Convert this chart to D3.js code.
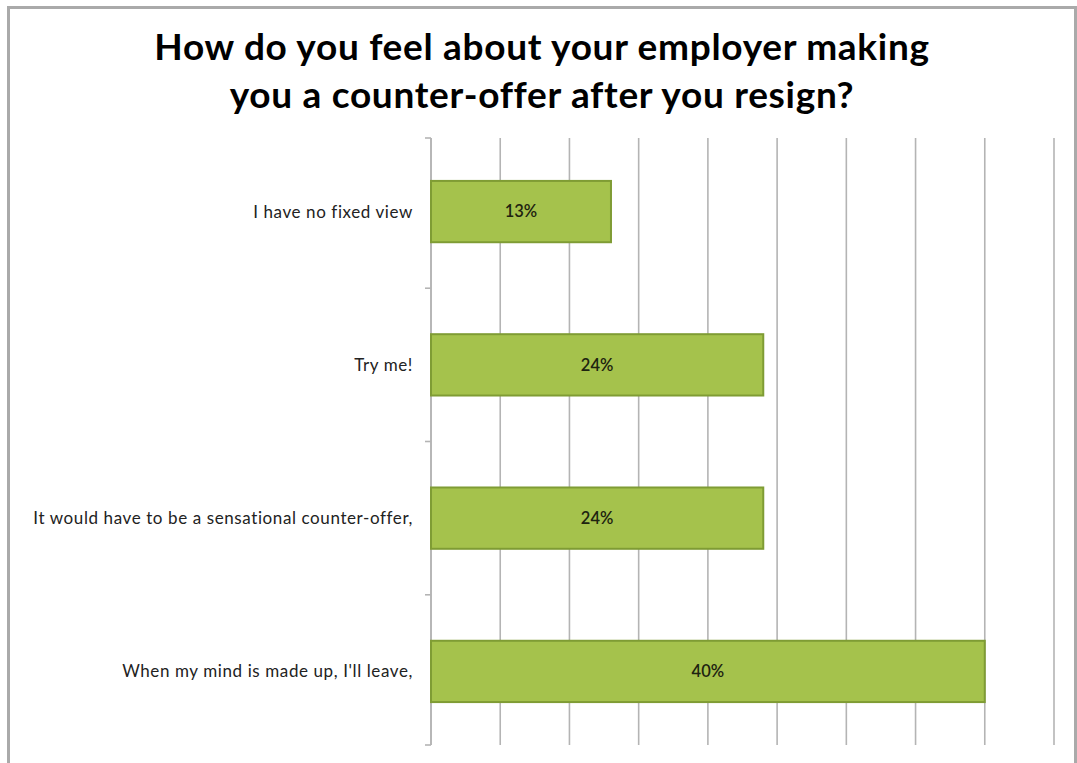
<!DOCTYPE html>
<html>
<head>
<meta charset="utf-8">
<script src="https://cdn.jsdelivr.net/npm/d3@7"></script>
<style>
  html, body { margin: 0; padding: 0; background: #fff; }
  svg { display: block; }
</style>
</head>
<body>
<script>
// Survey answers, top to bottom, with their share of respondents (%)
const categories = [
  "I have no fixed view",
  "Try me!",
  "It would have to be a sensational counter-offer,",
  "When my mind is made up, I'll leave,"
];
const values = [13, 24, 24, 40];
const valueLabels = ["13%", "24%", "24%", "40%"];
const gridTicks = [0, 5, 10, 15, 20, 25, 30, 35, 40, 45];
const titleLines = [
  "How do you feel about your employer making",
  "you a counter-offer after you resign?"
];

const W = 1077, H = 763;
const svg = d3.select("body").append("svg")
  .attr("width", W).attr("height", H);

// Frame around the chart
svg.append("rect")
  .attr("x", 8.5).attr("y", 7.5)
  .attr("width", 1067).attr("height", 780)
  .attr("fill", "#fff")
  .attr("stroke", "#aaaaaa").attr("stroke-width", 3);

// Title
const title = svg.append("text")
  .attr("text-anchor", "middle")
  .attr("font-family", "Lato, 'Open Sans', sans-serif")
  .attr("font-weight", 700)
  .attr("font-size", 37)
  .attr("letter-spacing", 0.7)
  .attr("fill", "#000");
titleLines.forEach((t, i) => {
  title.append("tspan")
    .attr("x", 542)
    .attr("y", 60 + i * 48)
    .text(t);
});

// Scales
const x = d3.scaleLinear().domain([0, 45]).range([431, 1054]);
const y = d3.scaleBand().domain(categories).range([138, 745])
  .paddingInner(0.6).paddingOuter(0.28);

// Vertical gridlines
svg.append("g")
  .selectAll("line")
  .data(gridTicks)
  .join("line")
  .attr("x1", d => x(d)).attr("x2", d => x(d))
  .attr("y1", 138).attr("y2", 745)
  .attr("stroke", "#b4b4b4").attr("stroke-width", 1.6);

// Category axis with outward ticks on band boundaries
const yAxisG = svg.append("g");
yAxisG.append("line")
  .attr("x1", x(0)).attr("x2", x(0))
  .attr("y1", 138).attr("y2", 745)
  .attr("stroke", "#b4b4b4").attr("stroke-width", 1.6);
const boundaries = categories.map(c => y(c) - y.step() * y.paddingInner() / 2)
  .concat([745]);
boundaries[0] = 138;
yAxisG.selectAll("line.tick")
  .data(boundaries)
  .join("line")
  .attr("class", "tick")
  .attr("x1", x(0) - 6).attr("x2", x(0))
  .attr("y1", d => d).attr("y2", d => d)
  .attr("stroke", "#b4b4b4").attr("stroke-width", 1.6);

// Category labels
svg.append("g")
  .selectAll("text")
  .data(categories)
  .join("text")
  .attr("x", 413)
  .attr("y", d => y(d) + y.bandwidth() / 2)
  .attr("dy", "0.35em")
  .attr("text-anchor", "end")
  .attr("font-family", "Lato, 'Open Sans', sans-serif")
  .attr("font-size", 17)
  .attr("letter-spacing", 0.6)
  .attr("fill", "#222")
  .text(d => d);

// Bars
svg.append("g")
  .selectAll("rect")
  .data(categories)
  .join("rect")
  .attr("x", x(0))
  .attr("y", d => y(d))
  .attr("width", (d, i) => x(values[i]) - x(0))
  .attr("height", y.bandwidth())
  .attr("fill", "#a5c24c")
  .attr("stroke", "#7f9c34")
  .attr("stroke-width", 2);

// Value labels centred in bars
svg.append("g")
  .selectAll("text")
  .data(categories)
  .join("text")
  .attr("x", (d, i) => (x(0) + x(values[i])) / 2)
  .attr("y", d => y(d) + y.bandwidth() / 2)
  .attr("dy", "0.35em")
  .attr("text-anchor", "middle")
  .attr("font-family", "Lato, 'Open Sans', sans-serif")
  .attr("font-weight", 600)
  .attr("font-size", 16.5)
  .attr("fill", "#1e2410")
  .text((d, i) => valueLabels[i]);
</script>
</body>
</html>
